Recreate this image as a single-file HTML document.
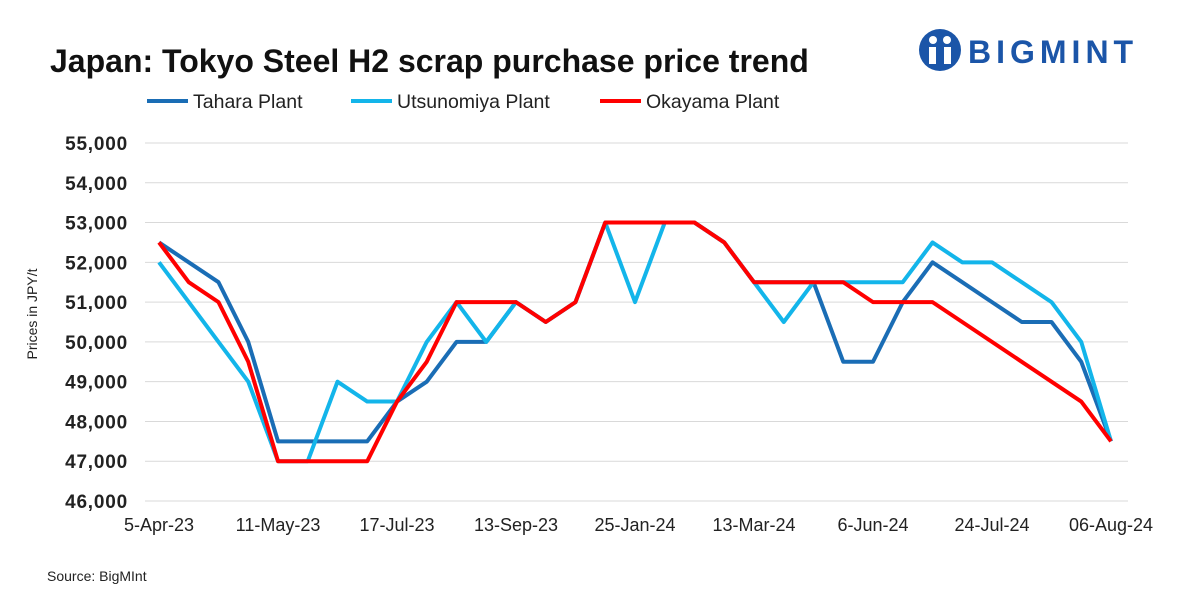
<!DOCTYPE html>
<html><head><meta charset="utf-8"><style>
body{margin:0;background:#fff;font-family:"Liberation Sans",Arial,sans-serif;}
svg text{font-family:"Liberation Sans",Arial,sans-serif;}
</style></head><body>
<svg id="chart" width="1181" height="591" viewBox="0 0 1181 591">
<text x="50" y="72" font-size="32" font-weight="bold" fill="#111">Japan: Tokyo Steel H2 scrap purchase price trend</text>
<g>
<circle cx="940" cy="50" r="21" fill="#1b55a8"/>
<circle cx="933" cy="40" r="4" fill="#fff"/><circle cx="947" cy="40" r="4" fill="#fff"/>
<rect x="929" y="47" width="7" height="17" fill="#fff"/><rect x="944" y="47" width="7" height="17" fill="#fff"/>
<text x="968" y="63" font-size="32" font-weight="bold" fill="#1b55a8" letter-spacing="5">BIGMINT</text>
</g>
<g id="legend"></g>
<text transform="translate(37,314) rotate(-90)" text-anchor="middle" font-size="14" fill="#222">Prices in JPY/t</text>
<g id="grid"></g><g id="series"></g><g id="xt"></g>
<text x="47" y="581" font-size="14" fill="#222">Source: BigMInt</text>
</svg>
<script>
const xLabels=["5-Apr-23","11-May-23","17-Jul-23","13-Sep-23","25-Jan-24","13-Mar-24","6-Jun-24","24-Jul-24","06-Aug-24"];
const yTicks=[46000,47000,48000,49000,50000,51000,52000,53000,54000,55000];
const seriesNames=["Tahara Plant","Utsunomiya Plant","Okayama Plant"];
const tahara=[52500,52000,51500,50000,47500,47500,47500,47500,48500,49000,50000,50000,51000,50500,51000,53000,53000,53000,53000,52500,51500,51500,51500,49500,49500,51000,52000,51500,51000,50500,50500,49500,47500];
const utsunomiya=[52000,51000,50000,49000,47000,47000,49000,48500,48500,50000,51000,50000,51000,50500,51000,53000,51000,53000,53000,52500,51500,50500,51500,51500,51500,51500,52500,52000,52000,51500,51000,50000,47500];
const okayama=[52500,51500,51000,49500,47000,47000,47000,47000,48500,49500,51000,51000,51000,50500,51000,53000,53000,53000,53000,52500,51500,51500,51500,51500,51000,51000,51000,50500,50000,49500,49000,48500,47500];
const colors=["#1a6db5","#13b5ea","#ff0000"];
const NS="http://www.w3.org/2000/svg";
const x0=159,x1=1111,yTop=143,yBot=501,vMin=46000,vMax=55000;
const n=tahara.length;
const X=i=>x0+(x1-x0)*i/(n-1);
const Y=v=>yBot-(v-vMin)/(vMax-vMin)*(yBot-yTop);
function mk(t,a,p){const e=document.createElementNS(NS,t);for(const k in a)e.setAttribute(k,a[k]);p.appendChild(e);return e;}
const grid=document.getElementById('grid');
yTicks.forEach(v=>{
 const l=mk('line',{x1:145,x2:1128,y1:Y(v),y2:Y(v),stroke:'#d9d9d9','stroke-width':1},grid);
 
 
 const t=mk('text',{x:128,y:Y(v)+7,'text-anchor':'end','font-size':19,'font-weight':'bold',fill:'#222','letter-spacing':'0.8'},grid);
 t.textContent=v.toLocaleString('en-US');
 
 
});
const xt=document.getElementById('xt');
xLabels.forEach((s,k)=>{
 const t=mk('text',{x:X(k*4),y:531,'text-anchor':'middle','font-size':18,fill:'#222'},xt);
 t.textContent=s;
 
 
});
const sg=document.getElementById('series');
[tahara,utsunomiya,okayama].forEach((d,si)=>{
 const p=mk('polyline',{points:d.map((v,i)=>X(i)+','+Y(v)).join(' '),fill:'none',stroke:colors[si],'stroke-width':4,'stroke-linejoin':'round'},sg);
 
 
});
const lg=document.getElementById('legend');
const lx=[147,351,600];
seriesNames.forEach((s,i)=>{
 const g=mk('g',{},lg);
 
 
 mk('line',{x1:lx[i],x2:lx[i]+41,y1:101,y2:101,stroke:colors[i],'stroke-width':4},g);
 const t=mk('text',{x:lx[i]+46,y:108,'font-size':19.5,fill:'#222'},g);t.textContent=s;
});
</script>
</body></html>
